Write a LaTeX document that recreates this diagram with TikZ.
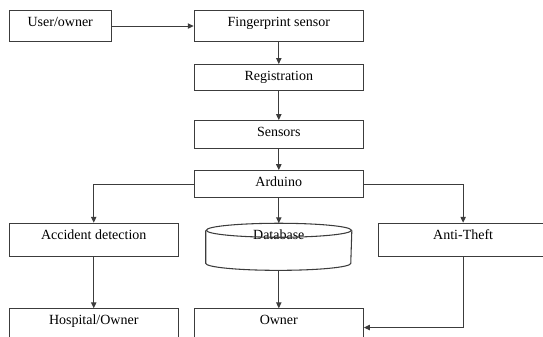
\documentclass[tikz,border=0pt]{standalone}
\usepackage{fontspec}
\setmainfont{Liberation Serif}
\usetikzlibrary{arrows.meta, positioning}
\definecolor{linegray}{RGB}{60, 60, 60}

\begin{document}
\begin{tikzpicture}[
    x=0.75pt, y=-0.75pt,
    blockbox/.style={
        rectangle, draw=linegray, line width=0.8pt,
        font=\fontsize{10.5}{12}\selectfont,
        minimum width=126.75pt, inner xsep=2pt, inner ysep=4.5pt,
        text height=7.5pt, text depth=#1
    },
    blockbox/.default=6.75pt,
    dbline/.style={draw=linegray, line width=0.8pt},
    arrow/.style={-{Triangle[length=4.5pt, width=4pt]}, line width=0.8pt, color=linegray}
]
    \useasboundingbox (0,0) rectangle (543,336);
    \clip (0,0) rectangle (543,336);

    \node [blockbox, minimum width=76.5pt, anchor=north west] (user) at (8.7,10) {User/owner};
    \node [blockbox, right=61.5pt of user] (finger) {Fingerprint sensor};
    \node [blockbox=3pt, below=16.5pt of finger] (reg) {Registration};
    \node [blockbox=4.5pt, below=21.75pt of reg] (sensors) {Sensors};
    \node [blockbox=3.75pt, below=15.75pt of sensors] (arduino) {Arduino};

    \node [blockbox=8.25pt, below left=18.4pt and 11.25pt of arduino] (accident) {Accident detection};
    \node [blockbox=8.25pt, below right=18.4pt and 10.7pt of arduino] (theft) {Anti-Theft};
    \node [blockbox=18pt, draw=none, minimum width=108.75pt, below=18.75pt of arduino] (db) {Database};

    % database drum
    \draw [dbline] ([yshift=-5.25pt]db.north) ellipse [x radius=54.375pt, y radius=5.25pt];
    \draw [dbline] ([yshift=-5.25pt]db.north west) -- ([yshift=5.25pt]db.south west)
        arc [start angle=180, end angle=360, x radius=54.375pt, y radius=5.25pt]
        -- ([yshift=-5.25pt]db.north east);

    \node [blockbox=11.5pt, below=38.6pt of accident] (hospital) {Hospital/Owner};
    \node [blockbox=11.5pt, right=11.25pt of hospital] (owner) {Owner};

    \draw [arrow] (user) -- (finger);
    \draw [arrow] (finger) -- (reg);
    \draw [arrow] (reg) -- (sensors);
    \draw [arrow] (sensors) -- (arduino);
    \draw [arrow] (arduino.west) -| (accident);
    \draw [arrow] (arduino.east) -| (theft);
    \draw [arrow] (arduino) -- (db);
    \draw [arrow] (db) -- (owner);
    \draw [arrow] (accident) -- (hospital);
    \draw [arrow] (theft) |- (owner.east);
\end{tikzpicture}
\end{document}
